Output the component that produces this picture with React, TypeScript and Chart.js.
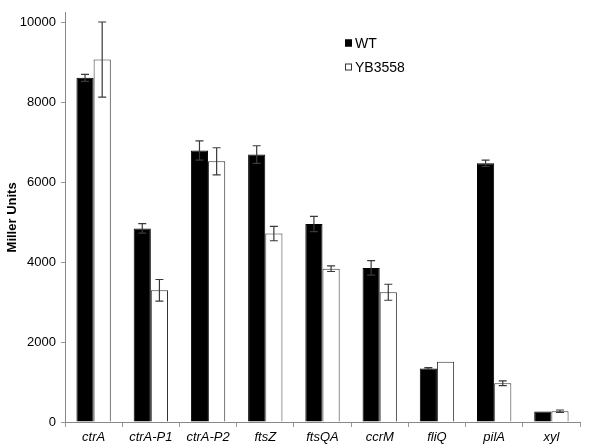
import React, { useEffect, useRef } from "react";
import { Chart, registerables } from "chart.js";

Chart.register(...registerables);

const categories = ["ctrA", "ctrA-P1", "ctrA-P2", "ftsZ", "ftsQA", "ccrM", "fliQ", "pilA", "xyl"];
const wtValues = [8620, 4850, 6800, 6700, 4960, 3860, 1340, 6480, 260];
const wtErrors = [90, 120, 240, 220, 190, 180, 20, 80, 0];
const ybValues = [9080, 3300, 6530, 4720, 3840, 3250, 1510, 970, 270];
const ybErrors = [940, 270, 340, 180, 70, 200, 0, 60, 30];
const yTicks = [0, 2000, 4000, 6000, 8000, 10000];
const legendLabels = ["WT", "YB3558"];

const FONT = "Arial, 'Liberation Sans', sans-serif";

const errorBarPlugin = {
  id: "errorBars",
  afterDatasetsDraw(chart: any) {
    const ctx = chart.ctx;
    const y = chart.scales.y;
    const errs = [wtErrors, ybErrors];
    ctx.save();
    ctx.strokeStyle = "#3a3a3a";
    ctx.lineWidth = 1.2;
    chart.data.datasets.forEach((ds: any, di: number) => {
      const meta = chart.getDatasetMeta(di);
      meta.data.forEach((bar: any, i: number) => {
        const e = errs[di][i];
        if (!e) return;
        const v = ds.data[i];
        const x = bar.x;
        const yt = y.getPixelForValue(v + e);
        const yb = y.getPixelForValue(v - e);
        ctx.beginPath();
        ctx.moveTo(x, yt);
        ctx.lineTo(x, yb);
        ctx.moveTo(x - 4, yt);
        ctx.lineTo(x + 4, yt);
        ctx.moveTo(x - 4, yb);
        ctx.lineTo(x + 4, yb);
        ctx.stroke();
      });
    });
    ctx.restore();
  },
};

const legendPlugin = {
  id: "customLegend",
  afterDraw(chart: any) {
    const ctx = chart.ctx;
    ctx.save();
    ctx.font = "14px " + FONT;
    ctx.textBaseline = "middle";
    const x0 = 345;
    const ys = [43, 67];
    legendLabels.forEach((lab, i) => {
      const yy = ys[i];
      ctx.fillStyle = i === 0 ? "#000" : "#fff";
      ctx.fillRect(x0, yy - 3.5, 7, 7);
      ctx.strokeStyle = i === 0 ? "#000" : "#333";
      ctx.lineWidth = 1;
      ctx.strokeRect(x0 + 0.5, yy - 3, 6, 6);
      ctx.fillStyle = "#000";
      ctx.fillText(lab, x0 + 10, yy + 1);
    });
    ctx.restore();
  },
};

export default function App() {
  const ref = useRef<HTMLCanvasElement>(null);
  useEffect(() => {
    document.body.style.margin = "0";
    const chart = new Chart(ref.current as HTMLCanvasElement, {
      type: "bar",
      data: {
        labels: categories,
        datasets: [
          {
            label: legendLabels[0],
            data: wtValues,
            backgroundColor: "#000",
            borderColor: "#000",
            borderWidth: 1,
            categoryPercentage: 0.6,
            barPercentage: 1.0,
          },
          {
            label: legendLabels[1],
            data: ybValues,
            backgroundColor: "#fff",
            borderColor: "#333",
            borderWidth: 1,
            categoryPercentage: 0.6,
            barPercentage: 1.0,
          },
        ],
      },
      options: {
        responsive: false,
        animation: false,
        layout: { padding: { left: 5, right: 20, top: 0, bottom: 0 } },
        plugins: { legend: { display: false }, tooltip: { enabled: false } },
        scales: {
          x: {
            grid: {
              display: true,
              drawOnChartArea: false,
              drawTicks: true,
              tickLength: 5,
              color: "#999",
              offset: true,
            },
            border: { color: "#888" },
            ticks: {
              color: "#000",
              font: { family: FONT, size: 13, style: "italic" },
              padding: 3,
              maxRotation: 0,
            },
            afterFit(scale: any) {
              scale.height = 25;
            },
          },
          y: {
            min: 0,
            max: 10250,
            afterBuildTicks(scale: any) {
              scale.ticks = yTicks.map((v) => ({ value: v }));
            },
            grid: {
              display: true,
              drawOnChartArea: false,
              drawTicks: true,
              tickLength: 4,
              color: "#999",
            },
            border: { color: "#888" },
            ticks: {
              color: "#000",
              font: { family: FONT, size: 13 },
              padding: 5,
              callback: (v: any) => String(v),
            },
            title: {
              display: true,
              text: "Miller Units",
              color: "#000",
              font: { family: FONT, size: 13, weight: "bold" },
              padding: { top: 0, bottom: 4 },
            },
            afterFit(scale: any) {
              scale.width = 60;
            },
          },
        },
      },
      plugins: [errorBarPlugin, legendPlugin],
    });
    return () => chart.destroy();
  }, []);
  return <canvas ref={ref} width={600} height={447} style={{ display: "block" }} />;
}
